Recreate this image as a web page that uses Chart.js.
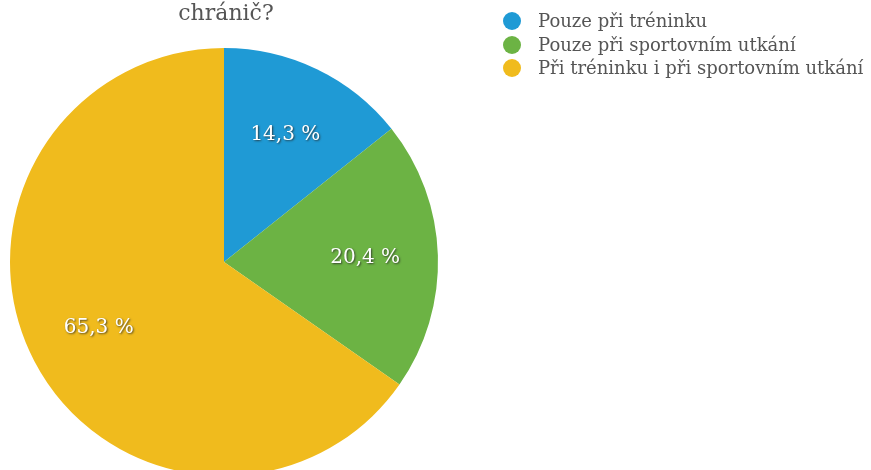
<!DOCTYPE html>
<html>
<head>
<meta charset="utf-8">
<script src="https://cdn.jsdelivr.net/npm/chart.js@4"></script>
<style>
    html, body { margin: 0; padding: 0; background: #fff; overflow: hidden; }
    .wrap { position: relative; width: 871px; height: 470px; overflow: hidden; }
    .chart-box { position: absolute; left: 0; top: 0; width: 871px; height: 490px; }
    #legend { position: absolute; left: 503px; top: 9px; font-family: "DejaVu Serif", "Liberation Serif", serif; font-size: 18px; color: #555; }
    #legend div { height: 23.5px; line-height: 23.5px; white-space: nowrap; }
    #legend span { display: inline-block; width: 18px; height: 18px; border-radius: 50%; vertical-align: -3px; margin-right: 17px; }
</style>
</head>
<body>
<div class="wrap">
    <div class="chart-box"><canvas id="pieChart"></canvas></div>
    <div id="legend"></div>
</div>
<script>
const titleText = 'chránič?';
const categories = ['Pouze při tréninku', 'Pouze při sportovním utkání', 'Při tréninku i při sportovním utkání'];
const values = [14.3, 20.4, 65.3];
const colors = ['#1f9ad5', '#6cb344', '#f0bb1d'];

// Legend as html, built from the arrays
const legendEl = document.getElementById('legend');
categories.forEach((name, i) => {
    const row = document.createElement('div');
    row.innerHTML = '<span style="background:' + colors[i] + '"></span>' + name;
    legendEl.appendChild(row);
});

// Percent labels inside slices + title
const labelPlugin = {
    id: 'labels',
    afterDatasetsDraw(chart) {
        const ctx = chart.ctx;
        const meta = chart.getDatasetMeta(0);
        ctx.save();
        ctx.font = '20px "DejaVu Serif", "Liberation Serif", serif';
        ctx.textAlign = 'center';
        ctx.textBaseline = 'middle';
        meta.data.forEach((arc, i) => {
            const p = arc.getProps(['x', 'y', 'startAngle', 'endAngle', 'outerRadius'], true);
            const mid = (p.startAngle + p.endAngle) / 2;
            const r = p.outerRadius * 0.66;
            const x = p.x + Math.cos(mid) * r;
            const y = p.y + Math.sin(mid) * r;
            ctx.shadowColor = 'rgba(40, 40, 40, 0.8)';
            ctx.shadowOffsetX = 1;
            ctx.shadowOffsetY = 1.5;
            ctx.shadowBlur = 2;
            ctx.fillStyle = '#fff';
            ctx.fillText(values[i].toFixed(1).replace('.', ',') + ' %', x, y);
        });
        ctx.restore();

        ctx.save();
        ctx.font = '22px "DejaVu Serif", "Liberation Serif", serif';
        ctx.fillStyle = '#555';
        ctx.textAlign = 'center';
        ctx.textBaseline = 'middle';
        ctx.fillText(titleText, meta.data[0].x + 2, 14);
        ctx.restore();
    }
};

new Chart(document.getElementById('pieChart'), {
    type: 'pie',
    data: {
        labels: categories,
        datasets: [{
            data: values,
            backgroundColor: colors,
            borderWidth: 0
        }]
    },
    options: {
        responsive: true,
        maintainAspectRatio: false,
        animation: false,
        layout: {
            padding: { top: 48, left: 10, right: 433, bottom: 14 }
        },
        plugins: {
            legend: { display: false },
            tooltip: { enabled: false },
            title: { display: false }
        }
    },
    plugins: [labelPlugin]
});
</script>
</body>
</html>
